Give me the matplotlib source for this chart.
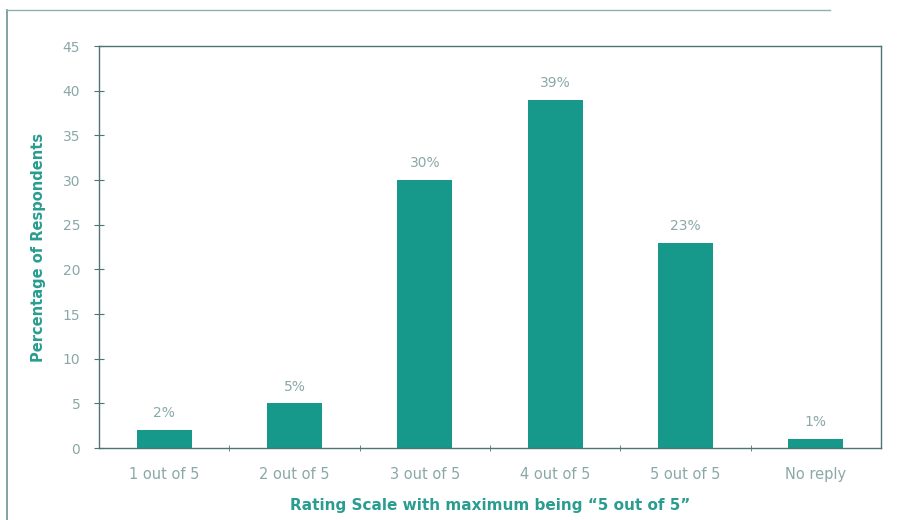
import matplotlib
matplotlib.use("Agg")
import matplotlib.pyplot as plt
from matplotlib.lines import Line2D

categories = ["1 out of 5", "2 out of 5", "3 out of 5", "4 out of 5", "5 out of 5", "No reply"]
values = [2, 5, 30, 39, 23, 1]
labels = ["2%", "5%", "30%", "39%", "23%", "1%"]
yticks = [0, 5, 10, 15, 20, 25, 30, 35, 40, 45]

bar_color = "#16998a"
text_color = "#2a9d90"
tick_color = "#8aa8a6"
axis_color = "#4f7573"

fig = plt.figure(figsize=(8.99, 5.2), dpi=100)
ax = fig.add_axes([99/899, 1 - 448/520, (881-99)/899, (448-46)/520])

x = list(range(len(categories)))
ax.bar(x, values, width=0.42, color=bar_color, zorder=2)
for xi, v, lab in zip(x, values, labels):
    ax.annotate(lab, (xi, v), xytext=(0, 7), textcoords="offset points",
                ha="center", va="bottom", color=tick_color, fontsize=10)

ax.set_xlim(-0.5, len(categories) - 0.5)
ax.set_ylim(0, 45)
ax.set_yticks(yticks)
ax.set_xticks(x)
ax.set_xticklabels(categories)
ax.set_xticks([i + 0.5 for i in range(len(categories) - 1)], minor=True)
ax.tick_params(axis="x", which="major", length=0, pad=14, labelsize=10.5, labelcolor=tick_color)
ax.tick_params(axis="x", which="minor", length=5, direction="inout", color=axis_color)
ax.tick_params(axis="y", length=7, direction="inout", color=axis_color, labelsize=10,
               labelcolor=tick_color, pad=10)
for s in ax.spines.values():
    s.set_color(axis_color)
    s.set_linewidth(1.0)

ax.set_ylabel("Percentage of Respondents", color=text_color, fontsize=10.5,
              fontweight="bold", labelpad=12)
ax.set_xlabel("Rating Scale with maximum being \u201c5 out of 5\u201d", color=text_color,
              fontsize=11, fontweight="bold", labelpad=11)

# outer frame (left and top)
fig.add_artist(Line2D([7/899, 7/899], [0, 1 - 10/520], transform=fig.transFigure,
                      color="#6f9290", lw=1.2))
fig.add_artist(Line2D([7/899, 830/899], [1 - 10/520, 1 - 10/520], transform=fig.transFigure,
                      color="#8fb0ae", lw=1.0))

fig.savefig("out.png", dpi=100)
